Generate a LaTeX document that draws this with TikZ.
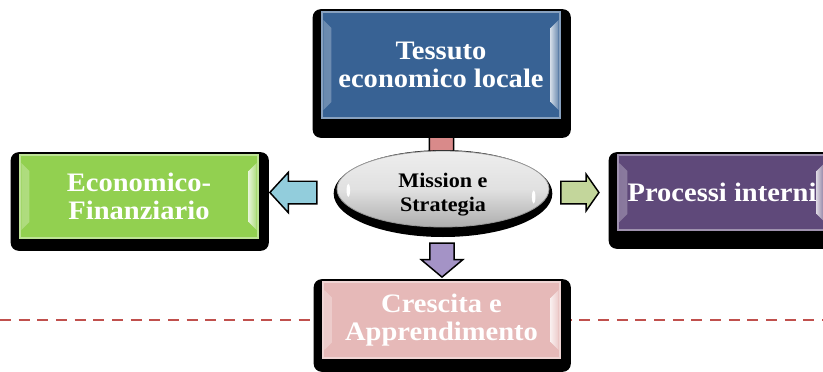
\documentclass[tikz,border=0pt]{standalone}
\usepackage{fontspec}
\setmainfont{Liberation Serif}[FakeStretch=1.07]
\usetikzlibrary{shapes.arrows,shapes.geometric}

\pgfdeclarelayer{back}
\pgfdeclarelayer{shade}
\pgfsetlayers{back,shade,main}

\definecolor{blueface}{HTML}{386294}
\definecolor{greenface}{HTML}{92D050}
\definecolor{purpleface}{HTML}{5F497A}
\definecolor{pinkface}{HTML}{E6B9B8}
\definecolor{ovalgray}{HTML}{D9D9D9}
\definecolor{leftarrow}{HTML}{92CDDC}
\definecolor{rightarrow}{HTML}{C3D69B}
\definecolor{downarrow}{HTML}{A493C6}
\definecolor{stubarrow}{HTML}{D98A8A}
\definecolor{redline}{HTML}{C0504D}

\newcommand\boxfont{\fontsize{20}{20.5}\selectfont\bfseries}
\newcommand\ovalfont{\fontsize{15.5}{18}\selectfont\bfseries}

% black drop shadow behind a box: node, extra depth below
\newcommand\dropshadow[2]{%
  \fill[black, rounded corners=6pt] ([shift={(-6.4pt,1.5pt)}]#1.north west)
    rectangle ([shift={(7.5pt,-#2)}]#1.south east);}

\tikzset{
  facebox/.style={rectangle, fill=#1, draw=#1!60!white, line width=1.2pt,
    text=white, font=\boxfont, align=center, inner sep=0pt,
    path picture={
      \shade[left color=#1!75!white, right color=#1!25!white]
        ([shift={(1pt,-6pt)}]path picture bounding box.north west)
        -- ([shift={(7pt,-12pt)}]path picture bounding box.north west)
        -- ([shift={(7pt,12pt)}]path picture bounding box.south west)
        -- ([shift={(1pt,6pt)}]path picture bounding box.south west) -- cycle;
      \shade[right color=#1!75!white, left color=#1!25!white]
        ([shift={(-1pt,-6pt)}]path picture bounding box.north east)
        -- ([shift={(-7pt,-12pt)}]path picture bounding box.north east)
        -- ([shift={(-7pt,12pt)}]path picture bounding box.south east)
        -- ([shift={(-1pt,6pt)}]path picture bounding box.south east) -- cycle;
    }},
  oval/.style={ellipse, minimum width=159pt, minimum height=57pt, inner sep=0pt,
    top color=ovalgray!45!white, bottom color=ovalgray!80!black, middle color=ovalgray!80!white,
    draw=black!40, line width=.6pt, font=\ovalfont,
    path picture={
      \fill[white, rotate=-25] ([shift={(-71pt,-1pt)}]path picture bounding box.center)
        ellipse [x radius=1.3pt, y radius=5pt];
      \fill[white, rotate=30] ([shift={(68pt,-6pt)}]path picture bounding box.center)
        ellipse [x radius=1.3pt, y radius=5pt];
    }},
  blockarrow/.style={single arrow, fill=#1, draw=black, line width=1.1pt,
    inner xsep=0pt, minimum width=0pt, single arrow head indent=0pt},
  dashline/.style={draw=redline, line width=1.7pt, dash pattern=on 8.25pt off 5.75pt}
}

\begin{document}
\begin{tikzpicture}[x=0.75pt, y=-0.75pt]
\useasboundingbox (0,0) rectangle (823,371);

% the five boxes
\node[facebox=blueface, minimum width=178.5pt, minimum height=79.5pt] (tessuto) at (441,65) {Tessuto\\economico locale};
\node[facebox=greenface, minimum width=178.5pt, minimum height=62.25pt] (econ) at (139,196.5) {Economico-\\Finanziario};
\node[facebox=purpleface, minimum width=156pt, minimum height=56.25pt] (proc) at (722,192.5) {Processi interni};
\node[facebox=pinkface, minimum width=177.75pt, minimum height=57pt] (cresc) at (441.5,320) {Crescita e\\Apprendimento};
\node[oval] (mission) at (443,189)
  {\raisebox{-8pt}[0pt][0pt]{\begin{tabular}{@{}c@{}}Mission e\\Strategia\end{tabular}}};

% block arrows
\node[blockarrow=leftarrow, shape border rotate=180, inner ysep=7.9pt, minimum height=35.25pt,
  single arrow head extend=6.75pt, single arrow tip angle=95] (toecon) at (298.5,192.5) {};
\node[blockarrow=rightarrow, inner ysep=7.9pt, minimum height=28.5pt,
  single arrow head extend=5.25pt, single arrow tip angle=110] (toproc) at (576,192.5) {};
\node[blockarrow=downarrow, shape border rotate=270, inner xsep=8.6pt, inner ysep=0pt, minimum height=25.5pt,
  single arrow head extend=6.4pt, single arrow tip angle=100] (tocresc) at (442,255) {};

\coordinate (lineL) at (0,320);
\coordinate (lineR) at (823,320);

\begin{pgfonlayer}{shade}
\dropshadow{tessuto}{14.25pt}
\dropshadow{econ}{9pt}
\dropshadow{proc}{13.5pt}
\dropshadow{cresc}{9.75pt}
\fill[black] ([yshift=-3.4pt]mission.center) ellipse [x radius=82pt, y radius=32.6pt];
\end{pgfonlayer}

\begin{pgfonlayer}{back}
\node[blockarrow=stubarrow, shape border rotate=270, inner xsep=8.6pt, inner ysep=0pt, minimum height=48.75pt,
  single arrow head extend=6.4pt] (fromtessuto) at (441.5,142.5) {};
\draw[dashline] (lineL) -- (cresc);
\draw[dashline] (cresc) -- (lineR);
\end{pgfonlayer}
\end{tikzpicture}
\end{document}
